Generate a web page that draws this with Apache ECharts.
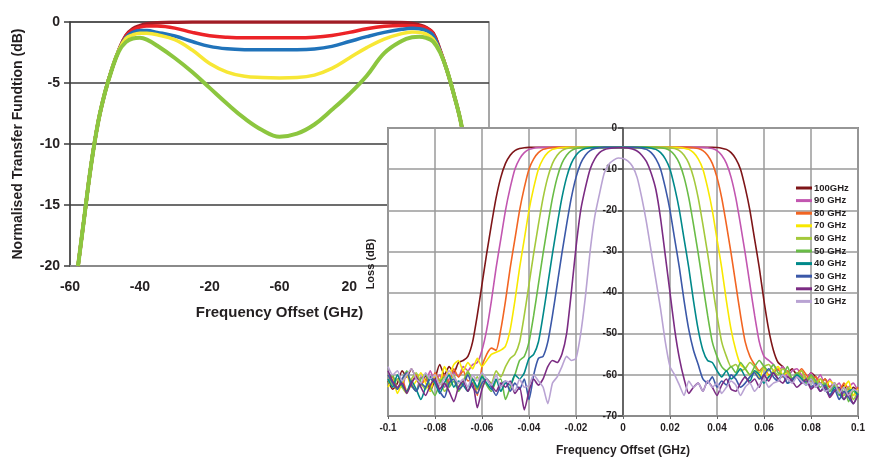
<!DOCTYPE html>
<html lang="en">
<head>
<meta charset="UTF-8">
<title>Filter transfer functions</title>
<script src="https://cdn.jsdelivr.net/npm/echarts@6/dist/echarts.min.js"></script>
<style>
    html, body { margin: 0; padding: 0; background: #fff; }
    #main { width: 874px; height: 462px; }
</style>
</head>
<body>
<div id="main"></div>
<script>
// back chart: normalised transfer function vs frequency offset (GHz)
var freqA = [-57.7, -56, -54, -52, -50, -48, -46, -44, -42, -40, -38, -35, -30, -25, -20, -15, -10, -5, 0,
    5, 10, 15, 20, 25, 30, 35, 38, 40, 42, 44, 46, 48, 50, 52, 54, 56, 57.7];
// the tick at 0 really is printed "-60" in the source figure
var tfTickLabels = ['-60', '-40', '-20', '-60', '20', '40', '60'];
var tfDarkRed = [-20, -16.2, -11.8, -8.3, -5.8, -3.85, -2.3, -1.1, -0.55, -0.3, -0.15, -0.06, -0.02, 0, 0, 0, 0, 0, 0,
    0, 0, 0, 0, 0, -0.02, -0.05, -0.12, -0.25, -0.45, -0.9, -2.3, -4.0, -6.0, -8.3, -11.8, -16.2, -20];
var tfRed = [-20, -16.2, -11.8, -8.3, -5.8, -3.85, -2.3, -1.15, -0.65, -0.42, -0.32, -0.33, -0.5, -0.85, -1.12, -1.25, -1.3, -1.3, -1.3,
    -1.3, -1.25, -1.1, -0.85, -0.55, -0.35, -0.28, -0.3, -0.35, -0.5, -0.95, -2.35, -4.0, -6.0, -8.3, -11.8, -16.2, -20];
var tfBlue = [-20, -16.2, -11.8, -8.3, -5.8, -3.85, -2.3, -1.25, -0.85, -0.7, -0.7, -0.85, -1.15, -1.6, -2.0, -2.2, -2.27, -2.28, -2.28,
    -2.28, -2.22, -2.0, -1.6, -1.2, -0.85, -0.6, -0.52, -0.55, -0.7, -1.1, -2.4, -4.0, -6.0, -8.3, -11.8, -16.2, -20];
var tfYellow = [-20, -16.2, -11.8, -8.3, -5.8, -3.85, -2.3, -1.35, -1.05, -0.92, -0.93, -1.05, -1.45, -2.3, -3.4, -4.1, -4.45, -4.55, -4.58,
    -4.55, -4.35, -3.8, -2.95, -2.1, -1.4, -0.95, -0.82, -0.85, -1.0, -1.4, -2.45, -4.0, -6.0, -8.3, -11.8, -16.2, -20];
var tfGreen = [-20, -16.2, -11.8, -8.3, -5.8, -3.9, -2.4, -1.65, -1.35, -1.3, -1.45, -1.95, -2.95, -4.1, -5.4, -6.7, -7.9, -8.85, -9.4,
    -9.15, -8.4, -7.2, -5.9, -4.4, -2.55, -1.55, -1.25, -1.2, -1.3, -1.6, -2.5, -4.0, -6.0, -8.3, -11.8, -16.2, -20];

// front chart: loss (dB) vs frequency offset, one trace per filter bandwidth
var freqB = [
    -0.1, -0.098, -0.096, -0.094, -0.092, -0.09, -0.088, -0.086, -0.084, -0.082,
    -0.08, -0.078, -0.076, -0.074, -0.072, -0.07, -0.068, -0.066, -0.064, -0.062,
    -0.06, -0.058, -0.056, -0.054, -0.052, -0.05, -0.048, -0.046, -0.044, -0.042,
    -0.04, -0.038, -0.036, -0.034, -0.032, -0.03, -0.028, -0.026, -0.024, -0.022,
    -0.02, -0.018, -0.016, -0.014, -0.012, -0.01, -0.008, -0.006, -0.004, -0.002,
    0, 0.002, 0.004, 0.006, 0.008, 0.01, 0.012, 0.014, 0.016, 0.018,
    0.02, 0.022, 0.024, 0.026, 0.028, 0.03, 0.032, 0.034, 0.036, 0.038,
    0.04, 0.042, 0.044, 0.046, 0.048, 0.05, 0.052, 0.054, 0.056, 0.058,
    0.06, 0.062, 0.064, 0.066, 0.068, 0.07, 0.072, 0.074, 0.076, 0.078,
    0.08, 0.082, 0.084, 0.086, 0.088, 0.09, 0.092, 0.094, 0.096, 0.098, 0.1
];
var bwNames = ['100GHz', '90 GHz', '80 GHz', '70 GHz', '60 GHz', '50 GHz', '40 GHz', '30 GHz', '20 GHz', '10 GHz'];
var loss100 = [
    -61.5, -63.5, -62, -59, -60.5, -58.5, -61, -62.5, -60, -64,
    -61, -57.5, -60, -58, -59.5, -57, -56.5, -55.5, -52, -45.5,
    -38, -30.5, -23.5, -17, -12, -8.6, -6.6, -5.5, -5.0, -4.8,
    -4.72, -4.7, -4.7, -4.7, -4.7, -4.7, -4.7, -4.7, -4.7, -4.7,
    -4.7, -4.7, -4.7, -4.7, -4.7, -4.7, -4.7, -4.7, -4.7, -4.7,
    -4.7, -4.7, -4.7, -4.7, -4.7, -4.7, -4.7, -4.7, -4.7, -4.7,
    -4.7, -4.7, -4.7, -4.7, -4.7, -4.7, -4.7, -4.7, -4.7, -4.7,
    -4.75, -4.9, -5.2, -6.0, -7.5, -10, -14.5, -20, -27, -34,
    -42, -49, -54, -57, -58, -59.5, -58.5, -60, -59, -61,
    -59.5, -60.5, -62, -61, -63, -62, -64, -62.5, -65, -63, -64
];
var loss90 = [
    -60, -62.5, -61, -63, -59.5, -62, -64, -60.5, -61.5, -59,
    -62, -60, -63, -61, -59.5, -60.5, -58, -59, -57.5, -57,
    -54, -49, -42, -34, -27, -20, -14.5, -10, -7.5, -6.0,
    -5.2, -4.9, -4.75, -4.7, -4.7, -4.7, -4.7, -4.7, -4.7, -4.7,
    -4.7, -4.7, -4.7, -4.7, -4.7, -4.7, -4.7, -4.7, -4.7, -4.7,
    -4.7, -4.7, -4.7, -4.7, -4.7, -4.7, -4.7, -4.7, -4.7, -4.7,
    -4.7, -4.7, -4.7, -4.7, -4.7, -4.7, -4.7, -4.72, -4.8, -5.0,
    -5.5, -6.6, -8.6, -12, -17, -23.5, -30.5, -38, -45.5, -52,
    -55.5, -56.5, -57.5, -59, -58, -60.5, -59, -58.5, -60, -61,
    -59.5, -61.5, -60, -62.5, -61, -63, -62, -64.5, -63, -62, -64
];
var loss80 = [
    -62, -60.5, -63.5, -61, -64, -62, -60, -62.5, -61, -63,
    -59.5, -61.5, -60, -62, -58.5, -60.5, -59, -61.5, -61, -65,
    -58, -55, -53.5, -54, -49, -42, -34, -27, -20, -14.5,
    -10, -7.5, -6.0, -5.2, -4.9, -4.75, -4.7, -4.7, -4.7, -4.7,
    -4.7, -4.7, -4.7, -4.7, -4.7, -4.7, -4.7, -4.7, -4.7, -4.7,
    -4.7, -4.7, -4.7, -4.7, -4.7, -4.7, -4.7, -4.7, -4.7, -4.7,
    -4.7, -4.7, -4.7, -4.7, -4.72, -4.8, -5.0, -5.5, -6.6, -8.6,
    -12, -17, -23.5, -30.5, -38, -45.5, -52, -55.5, -57.5, -59,
    -58, -60, -59.5, -58.5, -60.5, -59, -61, -60, -58.5, -60,
    -61.5, -60.5, -62, -61, -63, -62.5, -64, -62, -63.5, -65, -63
];
var loss70 = [
    -63, -61, -64.5, -62, -60, -63, -61.5, -59.5, -62, -64,
    -60, -62, -58, -60, -57.5, -56.5, -59, -57, -58.5, -56,
    -58, -56.5, -55, -54.5, -54, -53, -49, -42, -34, -27,
    -20, -14.5, -10, -7.5, -6.0, -5.2, -4.9, -4.75, -4.7, -4.7,
    -4.7, -4.7, -4.7, -4.7, -4.7, -4.7, -4.7, -4.7, -4.7, -4.7,
    -4.7, -4.7, -4.7, -4.7, -4.7, -4.7, -4.7, -4.7, -4.7, -4.7,
    -4.7, -4.7, -4.75, -4.9, -5.2, -6.0, -7.5, -10, -14.5, -20,
    -27, -34, -42, -49, -54, -57.5, -58.5, -60, -59, -61,
    -58, -60.5, -59, -58, -60, -59.5, -61, -60, -59, -61.5,
    -60.5, -62, -61, -63, -61.5, -62.5, -64, -63, -61.5, -65, -63.5
];
var loss60 = [
    -60, -62.5, -61, -63, -64.5, -61, -59.5, -62, -63.5, -60.5,
    -62, -61, -64, -62.5, -60, -63, -61.5, -59, -62, -60.5,
    -63, -61, -62, -59, -60.5, -58, -56, -55, -52, -45.5,
    -38, -30.5, -23.5, -17, -12, -8.6, -6.6, -5.5, -5.0, -4.8,
    -4.72, -4.7, -4.7, -4.7, -4.7, -4.7, -4.7, -4.7, -4.7, -4.7,
    -4.7, -4.7, -4.7, -4.7, -4.7, -4.7, -4.7, -4.7, -4.7, -4.72,
    -4.8, -5.0, -5.5, -6.6, -8.6, -12, -17, -23.5, -30.5, -38,
    -45.5, -52, -55.5, -58, -57.5, -59, -58.5, -57, -58, -59.5,
    -58, -57.5, -59, -60, -58.5, -59.5, -61, -60, -59, -61,
    -60.5, -62, -61, -62.5, -64, -62, -63.5, -65, -63, -66, -64
];
var loss50 = [
    -62, -60, -63.5, -61.5, -59, -62.5, -64, -61, -60, -63,
    -65, -62, -60.5, -63, -61.5, -64, -62, -59.5, -61, -63.5,
    -60, -62.5, -64, -61.5, -61, -66, -63, -60, -56.5, -55.5,
    -52, -45.5, -38, -30.5, -23.5, -17, -12, -8.6, -6.6, -5.5,
    -5.0, -4.8, -4.72, -4.7, -4.7, -4.7, -4.7, -4.7, -4.7, -4.7,
    -4.7, -4.7, -4.7, -4.7, -4.7, -4.7, -4.7, -4.72, -4.8, -5.0,
    -5.5, -6.6, -8.6, -12, -17, -23.5, -30.5, -38, -45.5, -52,
    -55.5, -58, -59, -58, -59.5, -57, -58.5, -60, -58, -56.5,
    -58, -59, -57.5, -59.5, -60, -58, -61, -59.5, -60.5, -62,
    -60, -61.5, -63, -62, -64, -62.5, -65, -63, -66.5, -64, -65
];
var loss40 = [
    -61, -63, -60, -62.5, -64, -61.5, -63.5, -66, -63, -61,
    -62, -64.5, -62, -60, -63, -61.5, -62.5, -64, -61, -63,
    -60.5, -62, -63.5, -61, -64, -62, -62.5, -60, -61, -59.5,
    -56, -55, -52, -45.5, -38, -30.5, -23.5, -17, -12, -8.6,
    -6.6, -5.5, -5.0, -4.8, -4.72, -4.7, -4.7, -4.7, -4.7, -4.7,
    -4.7, -4.7, -4.7, -4.7, -4.7, -4.75, -4.9, -5.2, -6.0, -7.5,
    -10, -14.5, -20, -27, -34, -42, -49, -54, -56.5, -57,
    -59, -60.5, -59, -61, -60, -58.5, -60.5, -61.5, -59, -60,
    -62, -60.5, -59.5, -61, -60, -62, -61.5, -60, -61, -62.5,
    -61, -63, -62, -63.5, -65, -63, -64.5, -66, -64, -63.5, -65
];
var loss30 = [
    -60, -62, -63.5, -61, -59.5, -62.5, -64, -62, -63, -60.5,
    -61.5, -64, -65.5, -62, -61, -63.5, -62.5, -60, -63, -64.5,
    -62, -61, -63, -65, -62.5, -61.5, -64, -62, -63.5, -61,
    -66, -60, -56, -55.5, -52, -45.5, -38, -30.5, -23.5, -17,
    -12, -8.6, -6.6, -5.5, -5.0, -4.8, -4.72, -4.7, -4.7, -4.7,
    -4.7, -4.7, -4.7, -4.75, -4.9, -5.2, -6.0, -7.5, -10, -14.5,
    -20, -27, -34, -42, -49, -54, -57.5, -61, -62, -60.5,
    -63, -61.5, -62.5, -60, -61, -63, -62, -60.5, -59.5, -61,
    -60, -58.5, -60.5, -61.5, -60, -62, -61, -60.5, -62, -61.5,
    -63, -62, -64, -62.5, -65, -63.5, -66, -64, -65.5, -67, -64.5
];
var loss20 = [
    -59, -61.5, -63, -62, -64.5, -62, -60.5, -63, -65, -62.5,
    -61, -63.5, -62, -64, -66.5, -63, -61.5, -64, -62, -68,
    -63.5, -61, -62.5, -64, -62, -63, -61.5, -64.5, -63, -68.5,
    -64, -61, -62.5, -61, -58, -56.5, -57, -55, -50, -40,
    -29, -20, -14.5, -10, -7.5, -6.0, -5.3, -5.0, -4.85, -4.8,
    -4.8, -4.85, -5.1, -5.6, -6.6, -8.2, -11, -15, -22, -31,
    -40, -49, -56, -61, -64.5, -63, -62, -64, -61.5, -63,
    -65, -62.5, -61, -63.5, -64, -62, -60.5, -62, -61, -63,
    -60, -61.5, -59.5, -61, -62, -60.5, -61.5, -63, -62, -61,
    -63.5, -62.5, -64, -63, -65.5, -64, -63, -66, -64.5, -67, -65
];
var loss10 = [
    -58, -60, -59, -61.5, -60, -58.5, -61, -62, -59.5, -61,
    -60, -62.5, -61, -59, -60.5, -62, -61, -63, -60, -61.5,
    -59.5, -61, -62.5, -60, -63, -61.5, -62, -64, -61, -63,
    -62.5, -60, -61.5, -63, -67, -62, -60.5, -58, -55.5, -56.5,
    -56, -50, -41, -30, -21.5, -16, -11, -8.8, -7.8, -7.3,
    -7.4, -8, -9.3, -12, -17, -23, -30, -37, -44, -52,
    -58, -60, -62.5, -65, -61.5, -63, -62, -64, -61.5, -63,
    -62, -64.5, -63, -61.5, -62.5, -65, -63, -62, -64, -62.5,
    -61, -63, -62, -61.5, -60, -61, -62, -60.5, -61.5, -62.5,
    -61, -63, -62, -64, -63.5, -62, -64.5, -63, -65, -63.5, -64
];
var lossSets = [loss100, loss90, loss80, loss70, loss60, loss50, loss40, loss30, loss20, loss10];

var tfColors = ['#a11c25', '#ec2328', '#2073ba', '#f7e735', '#8cc63f'];
var bwColors = ['#7e1518', '#c256b0', '#f26522', '#f8e800', '#a4c93b', '#69bc46', '#00898a', '#3b58a8', '#7b2c83', '#b9a3d3'];

var boldFont = 'Liberation Sans';

function pairs(xs, ys) {
    return xs.map(function (x, i) { return [x, ys[i]]; });
}

var myChart = echarts.init(document.getElementById('main'));

var series = [];
[tfDarkRed, tfRed, tfBlue, tfYellow, tfGreen].forEach(function (ys, i) {
    series.push({
        type: 'line',
        xAxisIndex: 0,
        yAxisIndex: 0,
        zlevel: 0,
        data: pairs(freqA, ys),
        smooth: 0.4,
        showSymbol: false,
        lineStyle: { color: tfColors[i], width: i === 4 ? 4 : 3.5 },
        itemStyle: { color: tfColors[i] }
    });
});
lossSets.forEach(function (ys, i) {
    series.push({
        name: bwNames[i],
        type: 'line',
        xAxisIndex: 1,
        yAxisIndex: 1,
        zlevel: 1,
        data: pairs(freqB, ys),
        smooth: 0.2,
        showSymbol: false,
        lineStyle: { color: bwColors[i], width: 1.6 },
        itemStyle: { color: bwColors[i] }
    });
});

var option = {
    animation: false,
    backgroundColor: '#fff',
    grid: [
        {   // back chart
            left: 70, top: 22, width: 419, height: 244,
            show: true, borderColor: '#8a8a8a', borderWidth: 1.5,
            zlevel: 0
        },
        {   // front chart, white box hides the back chart behind it
            left: 388, top: 128, width: 470, height: 290,
            show: true, backgroundColor: '#fff', borderColor: '#8c8c8c', borderWidth: 2,
            zlevel: 1
        }
    ],
    legend: {
        data: bwNames,
        orient: 'vertical',
        left: 791, top: 177,
        zlevel: 1,
        icon: 'rect',
        itemWidth: 16, itemHeight: 3,
        itemGap: 0.6,
        textStyle: { fontFamily: boldFont, fontWeight: 'bold', fontSize: 9.5, color: '#231f20', lineHeight: 12, padding: [0, 0, 0, -3] }
    },
    xAxis: [
        {
            gridIndex: 0, type: 'value', min: -60, max: 60, interval: 20, zlevel: 0,
            name: 'Frequency Offset (GHz)', nameLocation: 'middle', nameGap: 39,
            nameTextStyle: { fontFamily: boldFont, fontWeight: 'bold', fontSize: 15, color: '#231f20' },
            axisLine: { onZero: false, lineStyle: { color: '#8a8a8a', width: 2 } },
            axisTick: { show: false },
            splitLine: { show: false },
            axisLabel: {
                margin: 14, fontFamily: boldFont, fontWeight: 'bold', fontSize: 14, color: '#231f20',
                formatter: function (v) { return tfTickLabels[Math.round((v + 60) / 20)]; }
            }
        },
        {
            gridIndex: 1, type: 'value', min: -0.1, max: 0.1, interval: 0.02, zlevel: 1,
            name: 'Frequency Offset (GHz)', nameLocation: 'middle', nameGap: 29,
            nameTextStyle: { fontFamily: boldFont, fontWeight: 'bold', fontSize: 12, color: '#231f20' },
            axisLine: { onZero: false, lineStyle: { color: '#8c8c8c', width: 2 } },
            axisTick: { show: true, length: 3, lineStyle: { color: '#666' } },
            splitLine: { show: true, lineStyle: { color: '#9a9a9a', width: 1.5 } },
            axisLabel: {
                margin: 7, fontFamily: boldFont, fontWeight: 'bold', fontSize: 10, color: '#231f20',
                formatter: function (v) { return String(+v.toFixed(2)); }
            }
        }
    ],
    yAxis: [
        {
            gridIndex: 0, type: 'value', min: -20, max: 0, interval: 5, zlevel: 0,
            name: 'Normalised Transfer Fundtion (dB)', nameLocation: 'middle', nameGap: 45,
            nameTextStyle: { fontFamily: boldFont, fontWeight: 'bold', fontSize: 14, color: '#231f20' },
            axisLine: { show: true, onZero: false, lineStyle: { color: '#3c3c3c', width: 1.5 } },
            axisTick: { show: true, length: 6, lineStyle: { color: '#3c3c3c', width: 1.5 } },
            splitLine: { show: true, lineStyle: { color: '#3c3c3c', width: 1.5 } },
            axisLabel: { margin: 10, fontFamily: boldFont, fontWeight: 'bold', fontSize: 14, color: '#231f20' }
        },
        {
            // the loss axis sits on the 0 GHz line, in the middle of the plot
            gridIndex: 1, type: 'value', min: -70, max: 0, interval: 10, zlevel: 1,
            offset: -235,
            name: 'Loss (dB)', nameLocation: 'middle', nameGap: 247,
            nameTextStyle: { fontFamily: boldFont, fontWeight: 'bold', fontSize: 11, color: '#231f20', padding: [0, 0, 0, 16] },
            axisLine: { show: true, onZero: false, lineStyle: { color: '#4d4d4d', width: 1.5 } },
            axisTick: { show: true, length: 5, lineStyle: { color: '#4d4d4d', width: 1.5 } },
            splitLine: { show: true, lineStyle: { color: '#9a9a9a', width: 1.5 } },
            axisLabel: { margin: 6, fontFamily: boldFont, fontWeight: 'bold', fontSize: 10, color: '#231f20' }
        }
    ],
    series: series
};

myChart.setOption(option);
</script>
</body>
</html>
